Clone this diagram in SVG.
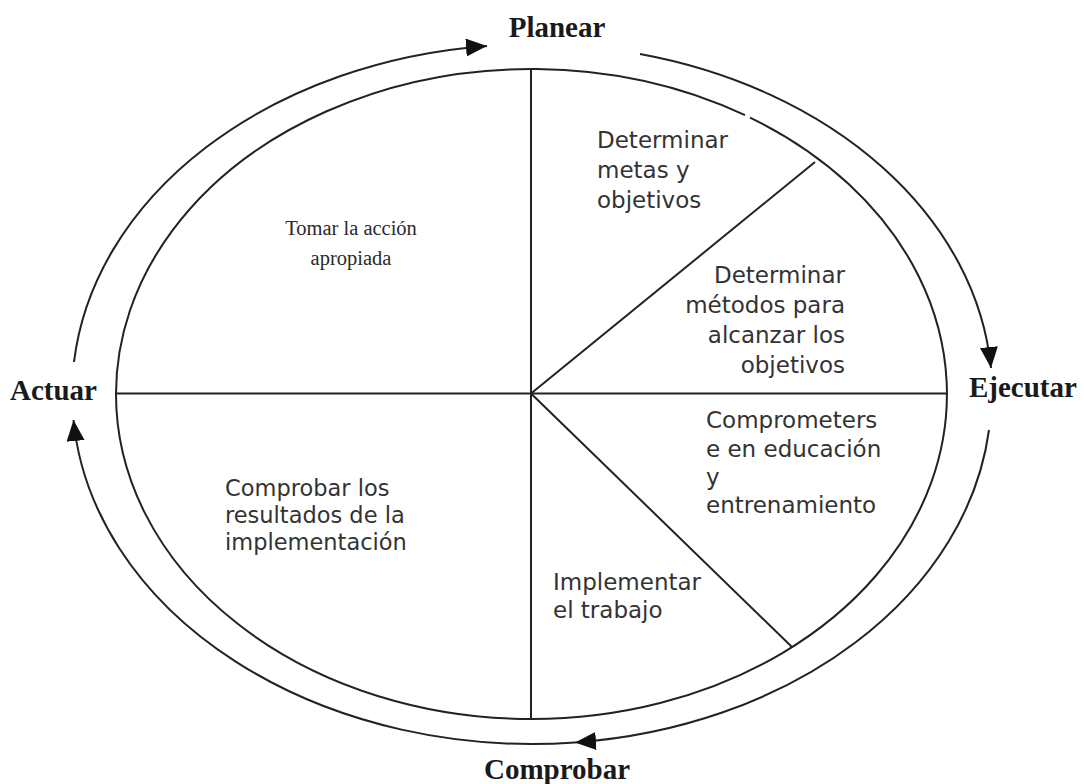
<svg xmlns="http://www.w3.org/2000/svg" width="1084" height="784" viewBox="0 0 1084 784">
<style>
.ln{fill:none;stroke:#222;stroke-width:2}
.arc{fill:none;stroke:#222;stroke-width:2;marker-end:url(#ah)}
.hd{font-family:"Liberation Serif","Times New Roman",serif;font-weight:bold;font-size:29px;fill:#1a1a1a}
.sv{font-family:"Liberation Serif","Times New Roman",serif;font-size:20.5px;fill:#2a2a2a}
.tx{font-family:"DejaVu Sans",sans-serif;font-size:23px;fill:#333}
.tx2{font-family:"DejaVu Sans",sans-serif;font-size:22.5px;fill:#333}
</style>
<defs>
<marker id="ah" markerUnits="userSpaceOnUse" markerWidth="24" markerHeight="20" refX="21" refY="9" orient="auto">
<path d="M0,0 L21,9 L0,18 z" fill="#111"/>
</marker>
</defs>
<rect width="1084" height="784" fill="#fff"/>
<g id="connectors">
<path class="arc" d="M74,362 A460,350 0 0 1 487,46"/>
<path class="arc" d="M640,54 A460,350 0 0 1 991,368"/>
<path class="arc" d="M989,430 A460,350 0 0 1 575,742.5"/>
<path class="arc" d="M575,742.5 A460,350 0 0 1 73.5,420"/>
</g>
<g id="wheel">
<path class="ln" d="M750,117.6 A415.5,325 0 0 1 531.5,719 A415.5,325 0 0 1 116,394 A415.5,325 0 0 1 745,115.2"/>
<line class="ln" x1="531" y1="69" x2="531" y2="719"/>
<line class="ln" x1="116" y1="393.5" x2="947" y2="393.5"/>
<line class="ln" x1="531" y1="393.5" x2="815" y2="162"/>
<line class="ln" x1="531" y1="393.5" x2="792" y2="647"/>
</g>
<g id="planear"><text class="hd" x="557" y="37" text-anchor="middle">Planear</text></g>
<g id="ejecutar"><text class="hd" x="969" y="397">Ejecutar</text></g>
<g id="comprobar"><text class="hd" x="557" y="779" text-anchor="middle">Comprobar</text></g>
<g id="actuar"><text class="hd" x="10" y="400">Actuar</text></g>
<g id="metas"><text class="tx" x="597" y="148">Determinar</text><text class="tx" x="597" y="178">metas y</text><text class="tx" x="597" y="208">objetivos</text></g>
<g id="metodos"><text class="tx" x="845" y="283" text-anchor="end">Determinar</text><text class="tx" x="845" y="313" text-anchor="end">métodos para</text><text class="tx" x="845" y="343" text-anchor="end">alcanzar los</text><text class="tx" x="845" y="373" text-anchor="end">objetivos</text></g>
<g id="educacion"><text class="tx" x="706" y="428">Comprometers</text><text class="tx" x="706" y="457">e en educación</text><text class="tx" x="706" y="485">y</text><text class="tx" x="706" y="513">entrenamiento</text></g>
<g id="implementar"><text class="tx" x="553" y="590">Implementar</text><text class="tx" x="553" y="618">el trabajo</text></g>
<g id="comprobar-res"><text class="tx2" x="225" y="496">Comprobar los</text><text class="tx2" x="225" y="523">resultados de la</text><text class="tx2" x="225" y="550">implementación</text></g>
<g id="tomar"><text class="sv" x="351" y="235" text-anchor="middle">Tomar la acción</text><text class="sv" x="351" y="265" text-anchor="middle">apropiada</text></g>
</svg>
